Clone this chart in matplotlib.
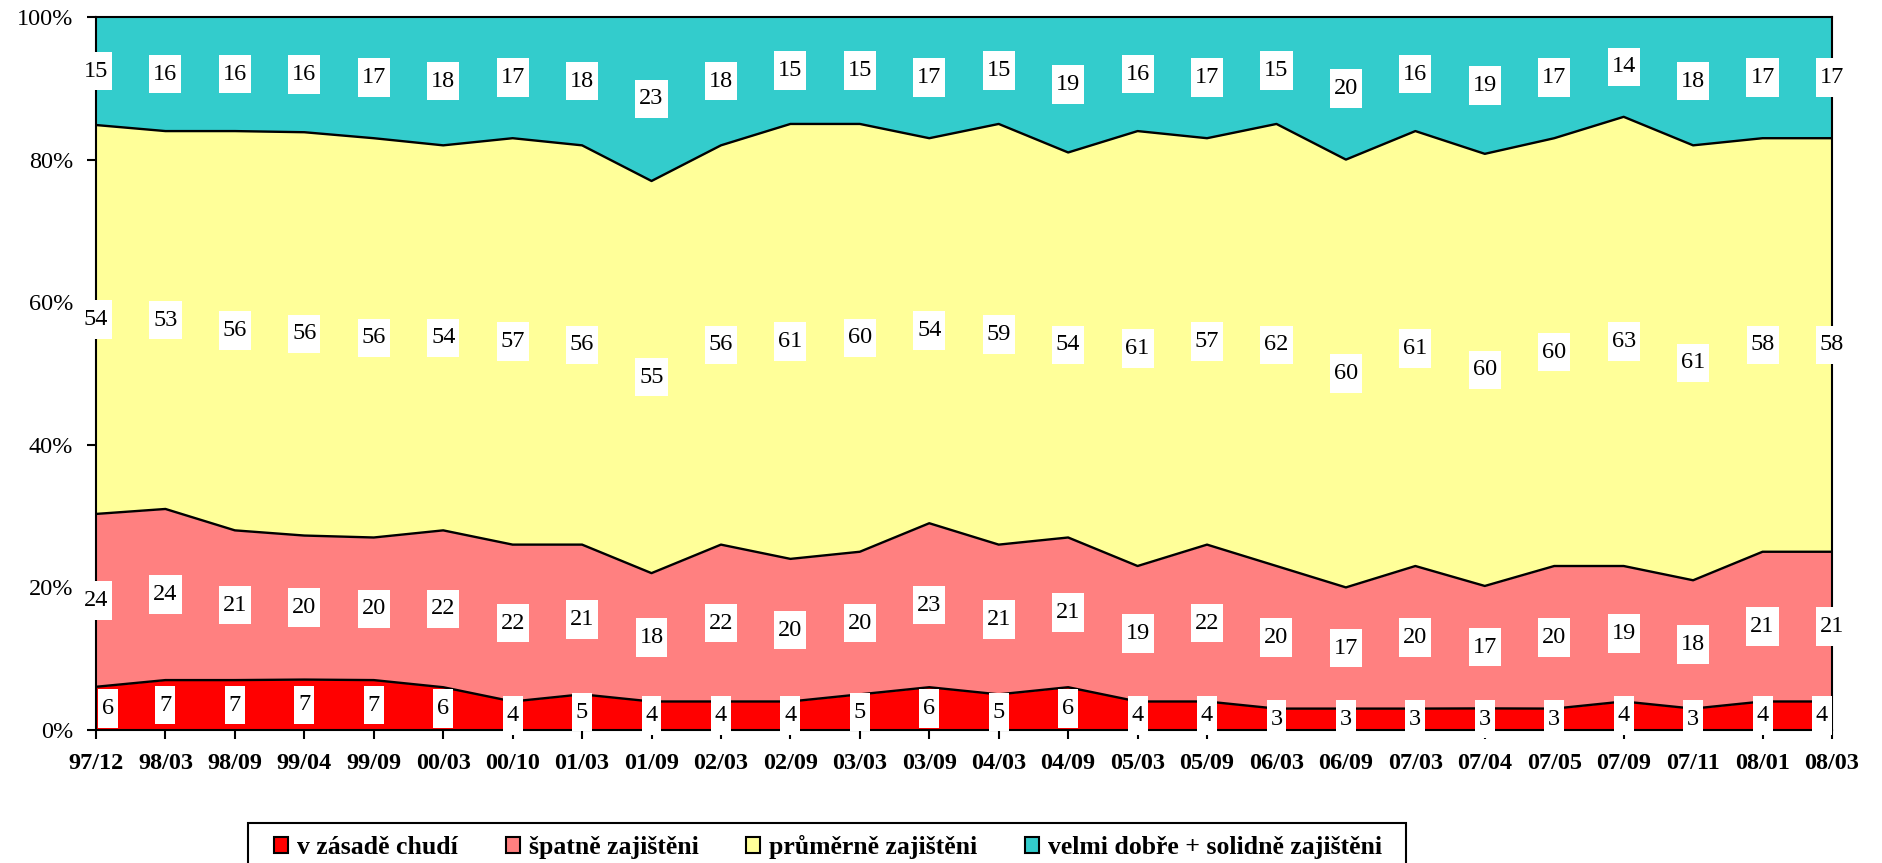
import numpy as np
import matplotlib
matplotlib.use("Agg")
import matplotlib.pyplot as plt
from matplotlib.path import Path
from matplotlib.patches import Patch, Rectangle

# ── data ──────────────────────────────────────────────────────────────────────
categories = ["97/12", "98/03", "98/09", "99/04", "99/09", "00/03", "00/10",
              "01/03", "01/09", "02/03", "02/09", "03/03", "03/09", "04/03",
              "04/09", "05/03", "05/09", "06/03", "06/09", "07/03", "07/04",
              "07/05", "07/09", "07/11", "08/01", "08/03"]
chudi    = [6, 7, 7, 7, 7, 6, 4, 5, 4, 4, 4, 5, 6, 5, 6, 4, 4, 3, 3, 3, 3, 3, 4, 3, 4, 4]
spatne   = [24, 24, 21, 20, 20, 22, 22, 21, 18, 22, 20, 20, 23, 21, 21, 19, 22, 20,
            17, 20, 17, 20, 19, 18, 21, 21]
prumerne = [54, 53, 56, 56, 56, 54, 57, 56, 55, 56, 61, 60, 54, 59, 54, 61, 57, 62,
            60, 61, 60, 60, 63, 61, 58, 58]
dobre    = [15, 16, 16, 16, 17, 18, 17, 18, 23, 18, 15, 15, 17, 15, 19, 16, 17, 15,
            20, 16, 19, 17, 14, 18, 17, 17]

names = ["v zásadě chudí", "špatně zajištěni", "průměrně zajištěni",
         "velmi dobře + solidně zajištěni"]
colors = ["#FF0000", "#FF8080", "#FFFF99", "#33CCCC"]

plt.rcParams["font.family"] = ["Liberation Serif", "DejaVu Serif"]

W, H = 1883, 863


def tall_box(x0, y0, width, height, mutation_size):
    # narrow horizontal padding, taller vertical padding (Excel-like label box)
    px = 0.16 * mutation_size
    py = 0.36 * mutation_size
    x0, y0 = x0 - px, y0 - py
    x1, y1 = x0 + width + 2 * px, y0 + height + 2 * py
    return Path([(x0, y0), (x1, y0), (x1, y1), (x0, y1), (x0, y0)], closed=True)


vals = np.array([chudi, spatne, prumerne, dobre], dtype=float)
pct = vals / vals.sum(axis=0) * 100
top = np.cumsum(pct, axis=0)
bottom = top - pct
x = np.arange(len(categories))

fig = plt.figure(figsize=(W / 100, H / 100), dpi=100)
fig.subplots_adjust(left=96 / W, right=1832 / W, top=1 - 17 / H, bottom=1 - 730 / H)
ax = fig.add_subplot(111)

for i in range(4):
    ax.fill_between(x, bottom[i], top[i], color=colors[i], lw=0, zorder=1)
    if i < 3:
        ax.plot(x, top[i], color="black", lw=1.7, zorder=2)

# data labels centred in each band
for i in range(4):
    for j in range(len(x)):
        ha, dx = "center", 0
        if i == 0 and j == 0:
            ha, dx = "left", 6
        elif i == 0 and j == len(x) - 1:
            ha, dx = "right", -4
        ax.annotate(str(int(vals[i, j])), xy=(x[j], (bottom[i, j] + top[i, j]) / 2),
                    xytext=(dx, 0), textcoords="offset pixels",
                    ha=ha, va="center", fontsize=17.5, color="black",
                    bbox=dict(boxstyle=tall_box, fc="white", ec="none"),
                    zorder=5, annotation_clip=False)

ax.set_xlim(0, len(x) - 1)
ax.set_ylim(0, 100)
ax.set_xticks(x)
ax.set_xticklabels(categories, fontsize=17.5, fontweight="bold")
ax.set_yticks(np.arange(0, 101, 20))
ax.set_yticklabels([f"{v}%" for v in range(0, 101, 20)], fontsize=17.5)
ax.tick_params(direction="out", length=6.5, width=1.5, pad=10, colors="black")
for s in ax.spines.values():
    s.set_linewidth(1.5)
    s.set_color("black")
    s.set_zorder(3)

# legend
handles = [Patch(facecolor=c, edgecolor="black", lw=1.5) for c in colors]
fig.legend(handles, names, ncol=4, loc="upper left",
           bbox_to_anchor=(274 / W, 1 - 835 / H), borderaxespad=0, borderpad=0,
           frameon=False, prop=dict(weight="bold", size=18.5),
           handlelength=0.55, handleheight=0.6, handletextpad=0.35,
           columnspacing=1.85)
fig.patches.append(Rectangle((248 / W, -0.05), (1406 - 248) / W, (1 - 823 / H) + 0.05,
                             transform=fig.transFigure, fill=False,
                             ec="black", lw=1.5))

fig.savefig("out.png", dpi=100)
